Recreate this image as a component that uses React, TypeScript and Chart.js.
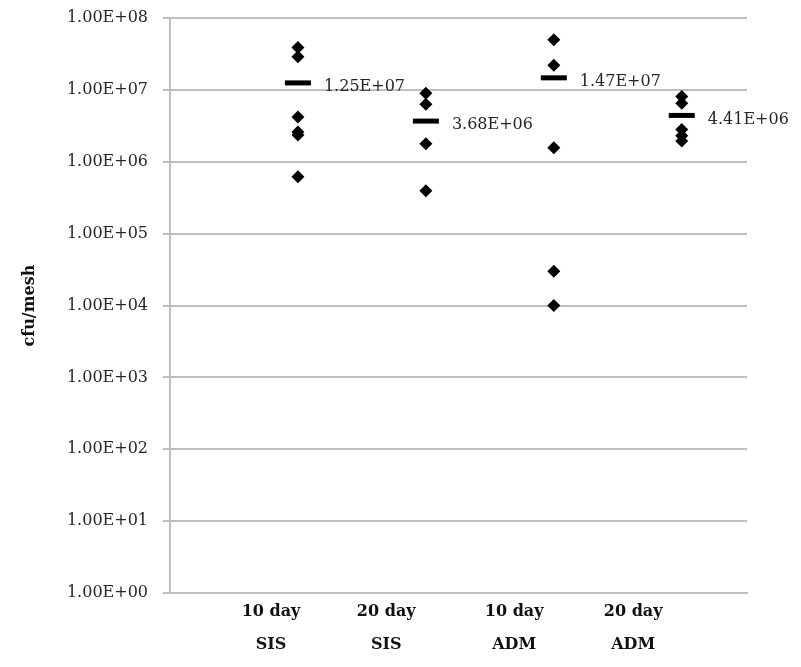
import React, { useEffect, useRef } from "react";
import { Chart, registerables } from "chart.js";

Chart.register(...registerables);

const dayLabels = ["10 day", "20 day", "10 day", "20 day"];
const groupLabels = ["SIS", "SIS", "ADM", "ADM"];
const labelPositions = [0.79, 1.69, 2.69, 3.62];

const sis10 = [3.9e7, 2.9e7, 4.2e6, 2.6e6, 2.35e6, 6.2e5];
const sis20 = [9.0e6, 6.3e6, 1.78e6, 3.95e5];
const adm10 = [5.0e7, 2.2e7, 1.57e6, 3.0e4, 1.0e4];
const adm20 = [8.1e6, 6.5e6, 2.8e6, 2.3e6, 1.95e6];
const groups = [sis10, sis20, adm10, adm20];
const means = [1.25e7, 3.68e6, 1.47e7, 4.41e6];

const yTickValues = [1, 1e1, 1e2, 1e3, 1e4, 1e5, 1e6, 1e7, 1e8];

const SERIF = "'DejaVu Serif', serif";

function fmtExp(v: number): string {
  const exp = Math.floor(Math.log10(v) + 1e-9);
  const mant = v / Math.pow(10, exp);
  const sign = exp < 0 ? "-" : "+";
  const e = Math.abs(exp);
  return mant.toFixed(2) + "E" + sign + (e < 10 ? "0" + e : String(e));
}

const meanLabelPlugin = {
  id: "meanLabels",
  afterDatasetsDraw(chart: any) {
    const { ctx, scales } = chart;
    ctx.save();
    ctx.font = "16px " + SERIF;
    ctx.fillStyle = "#262626";
    ctx.textAlign = "left";
    ctx.textBaseline = "middle";
    means.forEach((m, i) => {
      const x = scales.x.getPixelForValue(i + 1);
      const y = scales.y.getPixelForValue(m);
      ctx.fillText(fmtExp(m), x + 26, y + 4);
    });
    ctx.restore();
  },
};

export default function App() {
  const ref = useRef<HTMLCanvasElement | null>(null);
  useEffect(() => {
    if (!ref.current) return;
    const pointData = groups.flatMap((g, i) => g.map((v) => ({ x: i + 1, y: v })));
    const meanData = means.map((m, i) => ({ x: i + 1, y: m }));
    const chart = new Chart(ref.current, {
      type: "scatter",
      data: {
        datasets: [
          {
            label: "cfu/mesh",
            data: pointData,
            pointStyle: "rectRot",
            pointRadius: 6.5,
            backgroundColor: "#000",
            borderColor: "#000",
            borderWidth: 0,
          },
          {
            label: "mean",
            data: meanData,
            pointStyle: "line",
            pointRadius: 13,
            borderColor: "#000",
            backgroundColor: "#000",
            borderWidth: 5,
          },
        ],
      },
      options: {
        animation: false,
        responsive: false,
        events: [],
        layout: { padding: { top: 0, right: 54, left: 0, bottom: 0 } },
        plugins: { legend: { display: false }, tooltip: { enabled: false } },
        scales: {
          x: {
            type: "linear",
            min: 0,
            max: 4.51,
            afterBuildTicks: (scale: any) => {
              scale.ticks = labelPositions.map((v) => ({ value: v }));
            },
            afterFit: (scale: any) => {
              scale.height = 74;
            },
            grid: { display: false, drawTicks: false },
            border: { display: true, color: "#bfbfbf", width: 2 },
            ticks: {
              autoSkip: false,
              maxRotation: 0,
              padding: 2,
              color: "#111",
              font: { family: SERIF, size: 16, weight: "bold", lineHeight: 2.06 },
              callback: (value: any) => {
                const idx = labelPositions.findIndex((p) => Math.abs(p - value) < 1e-6);
                return idx >= 0 ? [dayLabels[idx], groupLabels[idx]] : "";
              },
            },
          },
          y: {
            type: "logarithmic",
            min: 1,
            max: 1e8,
            afterBuildTicks: (scale: any) => {
              scale.ticks = yTickValues.map((v) => ({ value: v }));
            },
            afterFit: (scale: any) => {
              scale.width = 170;
              scale.paddingTop = 14;
              scale.paddingBottom = 10;
            },
            grid: { color: "#bfbfbf", lineWidth: 2, tickLength: 7, drawTicks: true },
            border: { display: true, color: "#bfbfbf", width: 2 },
            ticks: {
              padding: 15,
              color: "#262626",
              font: { family: SERIF, size: 16 },
              callback: (value: any) => fmtExp(Number(value)),
            },
            title: {
              display: true,
              text: "cfu/mesh",
              color: "#111",
              padding: { top: 20, bottom: 0 },
              font: { family: SERIF, size: 16, weight: "bold" },
            },
          },
        },
      },
      plugins: [meanLabelPlugin],
    } as any);
    return () => chart.destroy();
  }, []);
  return (
    <div style={{ position: "absolute", left: 0, top: 0, width: 801, height: 667, background: "#fff" }}>
      <canvas ref={ref} width={801} height={667} />
    </div>
  );
}
